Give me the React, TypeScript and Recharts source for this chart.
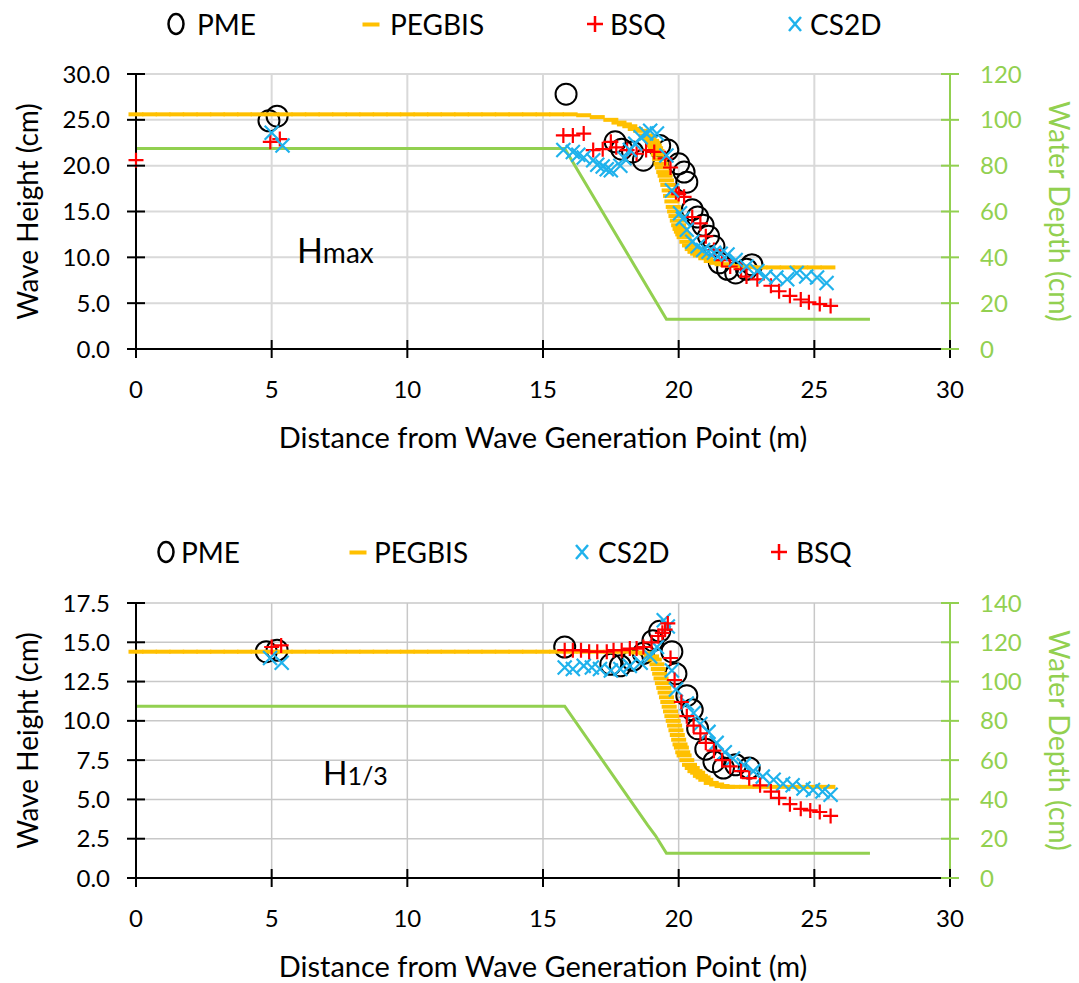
import React from 'react';
import { ComposedChart, Scatter, Line, XAxis, YAxis, CartesianGrid } from 'recharts';

type Pt = [number, number];

const ORANGE = '#FFC000';
const RED = '#FF0000';
const BLUE = '#1FB2EC';
const GREEN = '#92D050';

// shared x axis (m)
const distTicks = [0, 5, 10, 15, 20, 25, 30];

// ---- Hmax panel ----
const hmaxTicks = [0, 5, 10, 15, 20, 25, 30];
const depthTicksHmax = [0, 20, 40, 60, 80, 100, 120];

const pmeHmax: Pt[] = [
  [4.9, 24.9], [5.2, 25.4], [15.85, 27.8], [17.66, 22.6], [17.9, 21.8], [18.3, 21.5], [18.7, 20.6],
  [19.3, 22.2], [19.6, 21.7], [20.0, 20.2], [20.2, 19.3], [20.3, 18.2], [20.5, 15.2], [20.7, 14.4],
  [20.9, 13.5], [21.1, 12.3], [21.3, 11.2], [21.5, 9.4], [21.8, 8.7], [22.1, 8.3], [22.5, 8.7], [22.7, 9.2],
];

const pegbisHmax: Pt[] = [
  [0, 25.6], [0.5, 25.6], [1, 25.6], [1.5, 25.6], [2, 25.6], [2.5, 25.6], [3, 25.6], [3.5, 25.6],
  [4, 25.6], [4.5, 25.6], [5, 25.6], [5.5, 25.6], [6, 25.6], [6.5, 25.6], [7, 25.6], [7.5, 25.6],
  [8, 25.6], [8.5, 25.6], [9, 25.6], [9.5, 25.6], [10, 25.6], [10.5, 25.6], [11, 25.6], [11.5, 25.6],
  [12, 25.6], [12.5, 25.6], [13, 25.6], [13.5, 25.6], [14, 25.6], [14.5, 25.6], [15, 25.6], [15.5, 25.6],
  [16, 25.6], [16.5, 25.5], [17, 25.3], [17.5, 25.0], [17.8, 24.7], [18, 24.5], [18.2, 24.3], [18.4, 24.0],
  [18.6, 23.8], [18.8, 23.3], [18.9, 23.0], [19.0, 22.7], [19.05, 22.5], [19.1, 22.2], [19.15, 21.9],
  [19.2, 21.6], [19.25, 21.2], [19.3, 20.7], [19.35, 20.2], [19.4, 19.8], [19.45, 19.3], [19.5, 18.9],
  [19.55, 18.4], [19.6, 17.9], [19.65, 17.3], [19.7, 16.7], [19.75, 16.1], [19.8, 15.5], [19.85, 15.0],
  [19.9, 14.5], [19.95, 14.0], [20.0, 13.5], [20.05, 13.1], [20.1, 12.8], [20.15, 12.5], [20.2, 12.2],
  [20.3, 11.7], [20.4, 11.3], [20.5, 10.9], [20.6, 10.6], [20.7, 10.4], [20.8, 10.2], [21.0, 9.9],
  [21.2, 9.6], [21.4, 9.4], [21.6, 9.25], [21.8, 9.15], [22.0, 9.05], [22.3, 9.0], [22.6, 8.95],
  [23.0, 8.9], [23.5, 8.9], [24.0, 8.9], [24.5, 8.9], [25.0, 8.9], [25.5, 8.9],
];

const bsqHmax: Pt[] = [
  [0, 20.6], [4.95, 22.6], [5.3, 22.9], [15.75, 23.3], [16.1, 23.3], [16.5, 23.5], [16.85, 21.7],
  [17.2, 21.8], [17.5, 22.6], [17.7, 22.0], [18.1, 21.7], [18.45, 21.3], [18.8, 21.7], [19.1, 21.5],
  [19.5, 20.8], [19.7, 19.8], [19.9, 17.1], [20.0, 16.9], [20.2, 16.6], [20.5, 14.4], [20.8, 13.7],
  [21.0, 12.3], [21.3, 10.8], [21.6, 9.7], [21.9, 9.0], [22.3, 8.7], [22.5, 7.9], [22.9, 7.6],
  [23.4, 6.9], [23.7, 6.3], [24.1, 5.8], [24.5, 5.4], [24.8, 5.1], [25.2, 4.9], [25.6, 4.7],
];

const cs2dHmax: Pt[] = [
  [5.0, 23.6], [5.4, 22.2], [15.75, 21.7], [16.1, 21.5], [16.3, 21.2], [16.5, 20.9], [16.85, 20.6],
  [17.0, 20.1], [17.2, 19.9], [17.35, 19.6], [17.5, 19.5], [17.85, 20.0], [18.0, 20.8], [18.2, 21.7],
  [18.4, 22.4], [18.6, 23.1], [18.8, 23.5], [18.95, 23.8], [19.2, 23.5], [19.55, 21.1], [19.75, 17.3],
  [20.05, 14.8], [20.15, 14.2], [20.3, 13.0], [20.5, 11.7], [20.7, 11.2], [20.9, 10.8], [21.1, 10.6],
  [21.3, 10.5], [21.55, 10.4], [21.8, 10.3], [22.1, 9.7], [22.5, 9.0], [22.9, 8.5], [23.2, 7.9],
  [23.6, 7.8], [24.0, 7.6], [24.35, 8.3], [24.7, 7.9], [25.1, 7.8], [25.45, 7.2],
];

const depthHmax: Pt[] = [[0, 87.5], [15.8, 87.5], [19.55, 13], [27.05, 13]];

// ---- H1/3 panel ----
const h13Ticks = [0, 2.5, 5, 7.5, 10, 12.5, 15, 17.5];
const depthTicksH13 = [0, 20, 40, 60, 80, 100, 120, 140];

const pmeH13: Pt[] = [
  [4.8, 14.4], [5.2, 14.5], [15.8, 14.7], [17.5, 13.6], [17.85, 13.5], [18.3, 13.85], [18.7, 14.3],
  [19.05, 15.1], [19.3, 15.7], [19.75, 14.4], [19.9, 13.0], [20.3, 11.6], [20.5, 10.7], [20.7, 9.5],
  [21.0, 8.2], [21.3, 7.4], [21.65, 7.0], [22.1, 7.2], [22.6, 7.0],
];

const pegbisH13: Pt[] = [
  [0, 14.4], [0.5, 14.4], [1, 14.4], [1.5, 14.4], [2, 14.4], [2.5, 14.4], [3, 14.4], [3.5, 14.4],
  [4, 14.4], [4.5, 14.4], [5, 14.4], [5.5, 14.4], [6, 14.4], [6.5, 14.4], [7, 14.4], [7.5, 14.4],
  [8, 14.4], [8.5, 14.4], [9, 14.4], [9.5, 14.4], [10, 14.4], [10.5, 14.4], [11, 14.4], [11.5, 14.4],
  [12, 14.4], [12.5, 14.4], [13, 14.4], [13.5, 14.4], [14, 14.4], [14.5, 14.4], [15, 14.4], [15.5, 14.4],
  [16, 14.4], [16.5, 14.4], [17, 14.4], [17.5, 14.4], [18, 14.4], [18.5, 14.35], [18.8, 14.3],
  [19.0, 14.1], [19.1, 13.9], [19.2, 13.6], [19.25, 13.3], [19.3, 13.0], [19.35, 12.7], [19.4, 12.4],
  [19.45, 12.1], [19.5, 11.8], [19.55, 11.5], [19.6, 11.2], [19.65, 10.9], [19.7, 10.6], [19.75, 10.3],
  [19.8, 10.0], [19.85, 9.7], [19.9, 9.4], [19.95, 9.1], [20.0, 8.8], [20.05, 8.5], [20.1, 8.3],
  [20.15, 8.0], [20.2, 7.8], [20.3, 7.5], [20.4, 7.2], [20.5, 7.0], [20.6, 6.8], [20.7, 6.7],
  [20.8, 6.5], [20.9, 6.4], [21.0, 6.25], [21.2, 6.05], [21.4, 5.95], [21.6, 5.85], [21.8, 5.8],
  [22.0, 5.8], [22.5, 5.8], [23.0, 5.8], [23.5, 5.8], [24.0, 5.8], [24.5, 5.8], [25.0, 5.8], [25.5, 5.8],
];

const cs2dH13: Pt[] = [
  [4.94, 14.0], [5.37, 13.7], [15.8, 13.4], [16.1, 13.3], [16.5, 13.5], [16.8, 13.4], [17.1, 13.3],
  [17.5, 13.2], [17.85, 13.3], [18.2, 13.5], [18.6, 13.7], [18.95, 14.1], [19.2, 14.7], [19.45, 16.4],
  [19.6, 16.0], [19.75, 13.2], [19.9, 12.0], [20.3, 11.1], [20.55, 10.5], [20.8, 9.8], [21.1, 9.3],
  [21.4, 8.6], [21.7, 8.0], [22.0, 7.6], [22.4, 7.2], [22.75, 6.8], [23.1, 6.45], [23.5, 6.25],
  [23.85, 6.0], [24.2, 5.9], [24.6, 5.7], [24.95, 5.6], [25.3, 5.5], [25.6, 5.3],
];

const bsqH13: Pt[] = [
  [5.0, 14.7], [5.35, 14.8], [15.8, 14.5], [16.1, 14.5], [16.4, 14.5], [16.7, 14.4], [17.0, 14.4],
  [17.35, 14.4], [17.6, 14.5], [17.9, 14.5], [18.2, 14.6], [18.45, 14.6], [18.7, 14.7], [19.0, 15.0],
  [19.25, 15.4], [19.4, 15.6], [19.5, 15.8], [19.6, 16.2], [19.7, 14.0], [19.85, 12.6], [20.1, 11.2],
  [20.3, 10.3], [20.55, 9.7], [20.8, 9.2], [21.0, 8.6], [21.3, 8.1], [21.6, 7.5], [21.9, 7.1],
  [22.3, 6.8], [22.6, 6.35], [23.0, 5.9], [23.4, 5.5], [23.7, 5.1], [24.1, 4.7], [24.5, 4.4],
  [24.85, 4.3], [25.2, 4.2], [25.6, 3.95],
];

const depthH13: Pt[] = [[0, 87.5], [15.8, 87.5], [18.85, 27], [19.15, 21.5], [19.55, 12.6], [27.05, 12.6]];

const toXY = (pts: Pt[]) => pts.map(([x, y]) => ({ x, y }));
const toXD = (pts: Pt[]) => pts.map(([x, d]) => ({ x, d }));

// marker shapes
const circleShape = (p: any) => <circle cx={p.cx} cy={p.cy} r={10.5} fill="none" stroke="#000" strokeWidth={2} />;
const dashShape = (p: any) => <rect x={p.cx - 7.5} y={p.cy - 2} width={15} height={4} fill={ORANGE} />;
const plusShape = (p: any) => (
  <path d={`M${p.cx - 7.5},${p.cy}h15M${p.cx},${p.cy - 7.5}v15`} stroke={RED} strokeWidth={2.2} fill="none" />
);
const crossShape = (p: any) => (
  <path d={`M${p.cx - 7},${p.cy - 7}l14,14M${p.cx - 7},${p.cy + 7}l14,-14`} stroke={BLUE} strokeWidth={2.2} fill="none" />
);

const shapes: Record<string, any> = { PME: circleShape, PEGBIS: dashShape, BSQ: plusShape, CS2D: crossShape };

// axis ticks drawn as crossing marks + label
const leftTick = (fmt: (v: number) => string) => (p: any) => (
  <g>
    <line x1={p.x - 9} x2={p.x + 9} y1={p.y} y2={p.y} stroke="#000" strokeWidth={2} />
    <text x={p.x - 26} y={p.y + 8.5} textAnchor="end" fontSize={24} fill="#000">{fmt(p.payload.value)}</text>
  </g>
);
const rightTick = (p: any) => (
  <g>
    <line x1={p.x - 9} x2={p.x + 9} y1={p.y} y2={p.y} stroke={GREEN} strokeWidth={2} />
    <text x={p.x + 30} y={p.y + 8.5} textAnchor="start" fontSize={24} fill={GREEN}>{p.payload.value}</text>
  </g>
);
const bottomTick = (p: any) => (
  <g>
    <line x1={p.x} x2={p.x} y1={p.y - 9} y2={p.y + 9} stroke="#000" strokeWidth={2} />
    <text x={p.x} y={p.y + 49} textAnchor="middle" fontSize={24} fill="#000">{p.payload.value}</text>
  </g>
);

function LegendMark({ kind }: { kind: string }) {
  if (kind === 'PME') return <ellipse cx={10} cy={18} rx={7.5} ry={10} fill="none" stroke="#000" strokeWidth={2.5} />;
  if (kind === 'PEGBIS') return <rect x={1.5} y={16.5} width={17} height={4} fill={ORANGE} />;
  if (kind === 'BSQ') return <path d="M2,18h16M10,10v16" stroke={RED} strokeWidth={2.5} />;
  return <path d="M4,11l12,14M4,25l12,-14" stroke={BLUE} strokeWidth={2.5} />;
}

type LegendItem = { name: string; mx: number; tx: number };

function LegendRow({ top, items }: { top: number; items: LegendItem[] }) {
  return (
    <div style={{ position: 'absolute', left: 0, top, width: 1079, height: 36 }}>
      {items.map((it) => (
        <React.Fragment key={it.name}>
          <svg style={{ position: 'absolute', left: it.mx - 10, top: 0 }} width={20} height={36}>
            <LegendMark kind={it.name} />
          </svg>
          <span style={{ position: 'absolute', left: it.tx, top: 0, lineHeight: '36px', fontSize: 28, color: '#000' }}>
            {it.name}
          </span>
        </React.Fragment>
      ))}
    </div>
  );
}

type PanelProps = {
  height: number;
  marginTop: number;
  marginBottom: number;
  yMax: number;
  yTicks: number[];
  rMax: number;
  rTicks: number[];
  order: string[];
  series: Record<string, Pt[]>;
  depth: Pt[];
  note: { at: Pt; main: string; sub: string; mainSize: number; subSize: number };
  gridStroke: string;
  gridWidth: number;
};

function Panel(props: PanelProps) {
  const { note } = props;
  const noteShape = (p: any) => (
    <text x={p.cx} y={p.cy} fill="#000">
      <tspan fontSize={note.mainSize}>{note.main}</tspan>
      <tspan fontSize={note.subSize}>{note.sub}</tspan>
    </text>
  );
  return (
    <ComposedChart
      width={1079}
      height={props.height}
      margin={{ top: props.marginTop, right: 0, bottom: props.marginBottom, left: 0 }}
    >
      <CartesianGrid yAxisId="left" stroke={props.gridStroke} strokeWidth={props.gridWidth} />
      <XAxis
        dataKey="x"
        type="number"
        domain={[0, 30]}
        ticks={distTicks}
        interval={0}
        height={40}
        tickSize={0}
        tickMargin={0}
        axisLine={{ stroke: '#000', strokeWidth: 2 }}
        tick={bottomTick}
        label={{
          value: 'Distance from Wave Generation Point (m)',
          position: 'bottom',
          offset: 38,
          style: { fontSize: 29, fill: '#000' },
        }}
      />
      <YAxis
        yAxisId="left"
        dataKey="y"
        type="number"
        domain={[0, props.yMax]}
        ticks={props.yTicks}
        interval={0}
        width={136}
        tickSize={0}
        tickMargin={0}
        axisLine={{ stroke: '#000', strokeWidth: 2 }}
        tick={leftTick((v) => v.toFixed(1))}
        label={{
          value: 'Wave Height (cm)',
          angle: -90,
          position: 'insideLeft',
          offset: 28,
          style: { textAnchor: 'middle', fontSize: 28, fill: '#000' },
        }}
      />
      <YAxis
        yAxisId="right"
        orientation="right"
        type="number"
        domain={[0, props.rMax]}
        ticks={props.rTicks}
        interval={0}
        width={129}
        tickSize={0}
        tickMargin={0}
        axisLine={{ stroke: GREEN, strokeWidth: 2 }}
        tick={rightTick}
        label={{
          value: 'Water Depth (cm)',
          angle: 90,
          position: 'insideRight',
          offset: 20,
          style: { textAnchor: 'middle', fontSize: 28.5, fill: GREEN },
        }}
      />
      {props.order.map((name) => (
        <Scatter
          key={name}
          name={name}
          yAxisId="left"
          data={toXY(props.series[name])}
          shape={shapes[name]}
          isAnimationActive={false}
        />
      ))}
      <Line
        yAxisId="right"
        data={toXD(props.depth)}
        dataKey="d"
        type="linear"
        stroke={GREEN}
        strokeWidth={3}
        dot={false}
        isAnimationActive={false}
      />
      <Scatter yAxisId="left" data={toXY([note.at])} shape={noteShape} isAnimationActive={false} />
    </ComposedChart>
  );
}

export default function App() {
  return (
    <div style={{ position: 'absolute', left: 0, top: 0, width: 1079, height: 983, background: '#fff', fontFamily: 'Lato, sans-serif' }}>
      <div style={{ position: 'absolute', left: 0, top: 0 }}>
        <Panel
          height={500}
          marginTop={74}
          marginBottom={111}
          yMax={30}
          yTicks={hmaxTicks}
          rMax={120}
          rTicks={depthTicksHmax}
          order={['PME', 'PEGBIS', 'BSQ', 'CS2D']}
          series={{ PME: pmeHmax, PEGBIS: pegbisHmax, BSQ: bsqHmax, CS2D: cs2dHmax }}
          depth={depthHmax}
          note={{ at: [5.93, 9.4], main: 'H', sub: 'max', mainSize: 34, subSize: 28 }}
          gridStroke="#d9d9d9"
          gridWidth={2}
        />
      </div>
      <div style={{ position: 'absolute', left: 0, top: 500 }}>
        <Panel
          height={483}
          marginTop={103}
          marginBottom={65}
          yMax={17.5}
          yTicks={h13Ticks}
          rMax={140}
          rTicks={depthTicksH13}
          order={['PME', 'PEGBIS', 'CS2D', 'BSQ']}
          series={{ PME: pmeH13, PEGBIS: pegbisH13, BSQ: bsqH13, CS2D: cs2dH13 }}
          depth={depthH13}
          note={{ at: [6.89, 5.92], main: 'H', sub: '1/3', mainSize: 32, subSize: 25 }}
          gridStroke="#c8c8c8"
          gridWidth={1.5}
        />
      </div>
      <LegendRow
        top={6}
        items={[
          { name: 'PME', mx: 176, tx: 197 },
          { name: 'PEGBIS', mx: 371, tx: 390 },
          { name: 'BSQ', mx: 595, tx: 610 },
          { name: 'CS2D', mx: 795, tx: 810 },
        ]}
      />
      <LegendRow
        top={534}
        items={[
          { name: 'PME', mx: 166, tx: 181 },
          { name: 'PEGBIS', mx: 358, tx: 374 },
          { name: 'CS2D', mx: 582, tx: 598 },
          { name: 'BSQ', mx: 779, tx: 796 },
        ]}
      />
    </div>
  );
}
